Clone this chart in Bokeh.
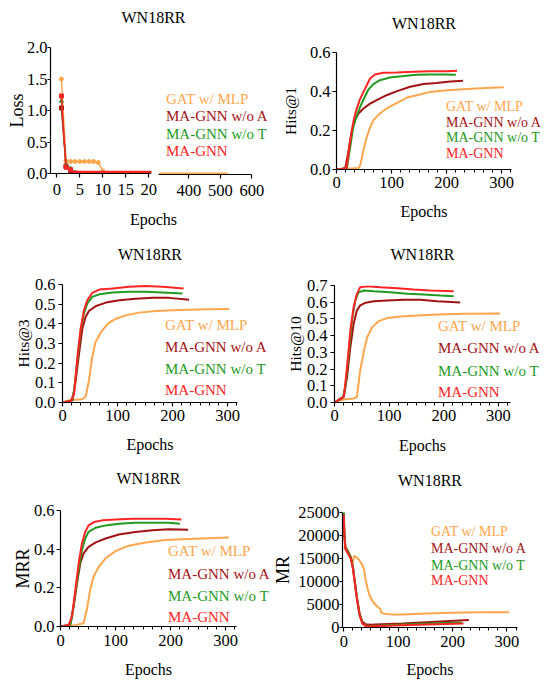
from bokeh.plotting import figure
from bokeh.models import (Range1d, LinearAxis, FixedTicker, SingleIntervalTicker,
                          NumeralTickFormatter, Legend, LegendItem)
from bokeh.layouts import column, row
from bokeh.embed import file_html
from bokeh.resources import INLINE

FONT = "Liberation Serif"
TITLE = "WN18RR"
SERIES = ["GAT w/ MLP", "MA-GNN w/o A", "MA-GNN w/o T", "MA-GNN"]
COLORS = ["#FFA64D", "#A31212", "#229A22", "#FF2424"]
MARKERS = ["circle", "square", "triangle", "square"]

# ---------------- data ----------------
# Loss (broken x axis: 0-20 and 300-600)
loss_epochs = [1, 2, 3, 4, 5, 6, 7, 8, 9, 10, 11, 12, 13, 14, 15, 16, 17, 18, 19, 20]
loss_gat = [1.50, 0.20, 0.19, 0.19, 0.19, 0.19, 0.19, 0.19, 0.175, 0.04, 0.004, 0.003, 0.003,
            0.003, 0.003, 0.003, 0.003, 0.003, 0.003, 0.003]
loss_woa = [1.04, 0.12, 0.04, 0.003, 0.002, 0.002, 0.002, 0.002, 0.002, 0.002, 0.002, 0.002,
            0.002, 0.002, 0.002, 0.002, 0.002, 0.002, 0.002, 0.002]
loss_wot = [1.15, 0.14, 0.08, 0.01, 0.003, 0.002, 0.002, 0.002, 0.002, 0.002, 0.002, 0.002,
            0.002, 0.002, 0.002, 0.002, 0.002, 0.002, 0.002, 0.002]
loss_ma = [1.23, 0.10, 0.06, 0.008, 0.003, 0.002, 0.002, 0.002, 0.002, 0.002, 0.002, 0.002,
           0.002, 0.002, 0.002, 0.002, 0.002, 0.002, 0.002, 0.002]
loss_late_epochs = [305, 330, 355, 380, 405, 430, 455, 480, 505, 523]
loss_gat_late = [0.002, 0.002, 0.002, 0.002, 0.002, 0.002, 0.002, 0.002, 0.002, 0.002]
loss_ticks_a = [0, 5, 10, 15, 20]
loss_ticks_b = [400, 500, 600]
loss_yticks = [0.0, 0.5, 1.0, 1.5, 2.0]

# Hits@1
h1_ep_gat = [0, 10, 20, 30, 40, 43, 49, 55, 61, 67, 79, 91, 110, 128, 146, 170, 201, 231, 261, 304]
h1_gat = [0.0, 0.004, 0.005, 0.006, 0.008, 0.02, 0.099, 0.167, 0.215, 0.253, 0.287, 0.313, 0.342,
          0.369, 0.381, 0.398, 0.407, 0.412, 0.417, 0.422]
h1_ep_woa = [0, 10, 16, 21, 28, 34, 40, 49, 61, 73, 91, 110, 134, 158, 182, 207, 230]
h1_woa = [0.0, 0.003, 0.008, 0.082, 0.20, 0.258, 0.287, 0.313, 0.338, 0.356, 0.381, 0.402, 0.424,
          0.438, 0.444, 0.451, 0.455]
h1_ep_wot = [0, 10, 19, 25, 30, 37, 43, 49, 58, 67, 79, 97, 122, 146, 170, 195, 217]
h1_wot = [0.0, 0.003, 0.008, 0.116, 0.21, 0.279, 0.321, 0.359, 0.41, 0.438, 0.458, 0.472, 0.479,
          0.486, 0.487, 0.487, 0.486]
h1_ep_ma = [0, 10, 18, 21, 25, 30, 35, 42, 49, 55, 61, 70, 85, 110, 140, 170, 201, 219]
h1_ma = [0.0, 0.003, 0.008, 0.065, 0.15, 0.236, 0.296, 0.356, 0.398, 0.432, 0.467, 0.487, 0.496,
         0.497, 0.501, 0.504, 0.504, 0.506]

# Hits@3
h3_ep_gat = [0, 12, 36, 42, 48, 54, 60, 70, 82, 97, 115, 139, 170, 200, 230, 261, 303]
h3_gat = [0.0, 0.012, 0.017, 0.029, 0.111, 0.23, 0.307, 0.358, 0.40, 0.426, 0.443, 0.457, 0.465,
          0.469, 0.472, 0.474, 0.476]
h3_ep_woa = [0, 10, 18, 24, 30, 36, 42, 48, 61, 79, 103, 133, 164, 194, 230]
h3_woa = [0.0, 0.005, 0.01, 0.111, 0.247, 0.375, 0.435, 0.465, 0.491, 0.508, 0.52, 0.528, 0.532,
          0.532, 0.523]
h3_ep_wot = [0, 10, 17, 21, 27, 33, 39, 45, 54, 67, 91, 121, 151, 182, 218]
h3_wot = [0.0, 0.005, 0.012, 0.06, 0.213, 0.366, 0.452, 0.503, 0.537, 0.55, 0.559, 0.563, 0.563,
          0.559, 0.554]
h3_ep_ma = [0, 10, 15, 21, 27, 33, 39, 45, 54, 67, 91, 121, 151, 182, 220]
h3_ma = [0.0, 0.005, 0.008, 0.043, 0.23, 0.375, 0.469, 0.52, 0.557, 0.574, 0.58, 0.588, 0.592,
         0.588, 0.58]

# Hits@10
h10_ep_gat = [0, 11, 20, 35, 41, 47, 54, 60, 69, 81, 96, 121, 151, 188, 236, 303]
h10_gat = [0.0, 0.014, 0.02, 0.024, 0.034, 0.193, 0.312, 0.392, 0.451, 0.487, 0.505, 0.515, 0.521,
           0.527, 0.531, 0.533]
h10_ep_woa = [0, 11, 17, 23, 29, 35, 41, 47, 57, 72, 96, 127, 157, 188, 230]
h10_woa = [0.0, 0.02, 0.034, 0.153, 0.332, 0.471, 0.551, 0.581, 0.597, 0.606, 0.61, 0.615, 0.615,
           0.606, 0.599]
h10_ep_wot = [0, 11, 15, 20, 26, 32, 38, 44, 54, 72, 102, 133, 163, 194, 218]
h10_wot = [0.0, 0.025, 0.03, 0.093, 0.292, 0.491, 0.61, 0.66, 0.67, 0.666, 0.66, 0.65, 0.646,
           0.64, 0.636]
h10_ep_ma = [0, 11, 17, 23, 29, 35, 41, 47, 60, 84, 115, 145, 175, 218]
h10_ma = [0.0, 0.024, 0.034, 0.213, 0.432, 0.571, 0.65, 0.69, 0.696, 0.69, 0.684, 0.676, 0.67,
          0.666]

# MRR
mrr_ep_gat = [0, 27, 42, 48, 54, 60, 70, 82, 100, 124, 155, 191, 233, 270, 306]
mrr_gat = [0.0, 0.007, 0.017, 0.089, 0.19, 0.259, 0.31, 0.353, 0.39, 0.418, 0.435, 0.447, 0.453,
           0.457, 0.46]
mrr_ep_woa = [0, 10, 18, 24, 30, 36, 42, 51, 64, 82, 106, 136, 167, 197, 232]
mrr_woa = [0.0, 0.005, 0.012, 0.106, 0.225, 0.327, 0.378, 0.412, 0.435, 0.455, 0.476, 0.489,
           0.498, 0.503, 0.501]
mrr_ep_wot = [0, 10, 18, 21, 27, 33, 39, 45, 51, 64, 82, 106, 136, 167, 197, 217]
mrr_wot = [0.0, 0.005, 0.012, 0.05, 0.174, 0.293, 0.395, 0.455, 0.49, 0.511, 0.523, 0.532, 0.537,
           0.537, 0.537, 0.532]
mrr_ep_ma = [0, 10, 15, 21, 27, 33, 39, 45, 51, 61, 76, 100, 130, 161, 191, 220]
mrr_ma = [0.0, 0.005, 0.008, 0.055, 0.19, 0.327, 0.43, 0.49, 0.523, 0.54, 0.549, 0.554, 0.557,
          0.557, 0.557, 0.554]

# MR
mr_ep_gat = [0, 4, 8, 12, 16, 19, 24, 28, 33, 37, 40, 44, 48, 53, 58, 63, 67, 69, 75, 90, 110,
             140, 180, 220, 260, 304]
mr_gat = [17400, 16900, 16300, 15300, 13800, 15600, 15200, 14700, 13800, 12800, 10500, 8300, 6800,
          5700, 5000, 4400, 4000, 3200, 3000, 2800, 2850, 3000, 3150, 3250, 3300, 3300]
mr_ep_woa = [0, 1, 3, 8, 13, 17, 20, 24, 29, 34, 40, 48, 70, 108, 169, 230]
mr_woa = [25000, 21000, 17500, 16500, 15300, 13000, 10300, 6700, 3100, 1300, 700, 600, 700, 850,
          1250, 1650]
mr_ep_wot = [0, 1, 3, 8, 13, 17, 20, 24, 29, 34, 40, 48, 70, 108, 169, 217]
mr_wot = [25000, 20000, 17300, 16300, 15100, 12800, 10000, 6400, 2800, 1000, 450, 350, 450, 650,
          900, 1100]
mr_ep_ma = [0, 1, 3, 8, 13, 17, 20, 24, 29, 34, 40, 48, 70, 108, 169, 220]
mr_ma = [24500, 19500, 17000, 16000, 14900, 12600, 9800, 6200, 2700, 900, 350, 250, 350, 500,
         700, 850]

hit_yticks_6 = [0.0, 0.1, 0.2, 0.3, 0.4, 0.5, 0.6]
hit_yticks_7 = [0.0, 0.1, 0.2, 0.3, 0.4, 0.5, 0.6, 0.7]
two_step_yticks = [0.0, 0.2, 0.4, 0.6]
mr_yticks = [0, 5000, 10000, 15000, 20000, 25000]


# ---------------- helpers ----------------
def base_fig(w, h, lb, rb, tb, bb, xr, yr, transparent=False):
    p = figure(width=w, height=h, min_border_left=lb, min_border_right=rb,
               min_border_top=tb, min_border_bottom=bb,
               x_range=Range1d(*xr), y_range=Range1d(*yr),
               output_backend="svg", toolbar_location=None, title=None)
    p.outline_line_color = None
    p.xgrid.visible = False
    p.ygrid.visible = False
    if transparent:
        p.background_fill_alpha = 0
        p.border_fill_alpha = 0
    else:
        p.background_fill_color = "white"
        p.border_fill_color = "white"
    return p


def add_title_axis(p, standoff):
    ax = LinearAxis(ticker=FixedTicker(ticks=[]), axis_label=TITLE)
    ax.axis_line_color = None
    ax.major_tick_line_color = None
    ax.minor_tick_line_color = None
    ax.major_tick_out = 0
    ax.major_tick_in = 0
    ax.major_label_standoff = 0
    ax.axis_label_text_font = FONT
    ax.axis_label_text_font_size = "16px"
    ax.axis_label_text_font_style = "normal"
    ax.axis_label_text_color = "black"
    ax.axis_label_standoff = int(standoff)
    p.add_layout(ax, "above")


def style_axis(ax, tick_out, standoff, label=None, label_size="16px", label_standoff=8,
               minor=False, tick_size="16.5px"):
    ax.axis_line_color = "black"
    ax.axis_line_width = 1.2
    ax.major_tick_line_color = "black"
    ax.major_tick_line_width = 1.2
    ax.major_tick_out = int(tick_out)
    ax.major_tick_in = 0
    ax.minor_tick_line_color = "black" if minor else None
    ax.minor_tick_out = 3
    ax.minor_tick_in = 0
    ax.minor_tick_line_width = 1
    ax.major_label_text_font = FONT
    ax.major_label_text_font_size = tick_size
    ax.major_label_text_color = "black"
    ax.major_label_standoff = int(standoff)
    if label is not None:
        ax.axis_label = label
        ax.axis_label_text_font = FONT
        ax.axis_label_text_font_size = label_size
        ax.axis_label_text_font_style = "normal"
        ax.axis_label_text_color = "black"
        ax.axis_label_standoff = int(label_standoff)


def legend_renderers(p):
    rends = []
    for i in range(4):
        ln = p.line(x=[], y=[], line_color=COLORS[i], line_width=1.3)
        sc = p.scatter(x=[], y=[], marker=MARKERS[i], size=3, fill_color=COLORS[i],
                       line_color=COLORS[i])
        rends.append([ln, sc])
    return rends


def add_legends(p, rends, gx, frame_bottom, centers, pitch, font_size, standoff, glyph_w=14):
    for i, rs in enumerate(rends):
        vy = frame_bottom - centers[i] - pitch / 2.0
        leg = Legend(items=[LegendItem(label=SERIES[i], renderers=rs)],
                     location=(gx, vy), orientation="vertical",
                     padding=0, margin=0, spacing=0,
                     glyph_width=glyph_w, glyph_height=int(pitch), label_height=int(pitch),
                     label_standoff=int(standoff),
                     label_text_font=FONT, label_text_font_size=font_size,
                     label_text_color=COLORS[i], label_text_baseline="middle",
                     border_line_color=None, background_fill_alpha=0)
        p.add_layout(leg)


def legend_overlay(w, h, gx, centers, pitch, font_size, standoff):
    o = base_fig(w, h, 0, 0, 0, 0, (0, 1), (0, 1), transparent=True)
    o.xaxis.visible = False
    o.yaxis.visible = False
    add_legends(o, legend_renderers(o), gx, h, centers, pitch, font_size, standoff)
    return o


def curve_panel(w, h, lb, rb, tb, bb, xr, yr, series, yticks, yfmt,
                ylabel, ylabel_size, y_tick_out, y_standoff, y_label_standoff,
                x_standoff, x_label_standoff, title_standoff):
    p = base_fig(w, h, lb, rb, tb, bb, xr, yr)
    xa = p.below[0]
    xa.ticker = SingleIntervalTicker(interval=100, num_minor_ticks=6)
    style_axis(xa, 4, x_standoff, "Epochs", "16px", x_label_standoff, minor=True)
    ya = p.left[0]
    ya.ticker = FixedTicker(ticks=yticks)
    ya.formatter = NumeralTickFormatter(format=yfmt)
    style_axis(ya, y_tick_out, y_standoff, ylabel, ylabel_size, y_label_standoff)
    add_title_axis(p, title_standoff)
    for i, (xs, ys) in enumerate(series):
        p.line(xs, ys, line_color=COLORS[i], line_width=2.0)
    return p


def overlay(fig):
    return column(fig, margin=(0, 0, 0, -fig.width))


# ---------------- panel 1: Loss (broken axis) ----------------
p1a = base_fig(274, 230, 50, 18, 47, 56, (-1.37, -1.37 + 206 / 4.6), (0, 2.0))
xa1 = p1a.below[0]
xa1.ticker = FixedTicker(ticks=loss_ticks_a)
xa1.bounds = (-1.37, 20.4)
style_axis(xa1, 4, 6, "Epochs", "16px", 13)
ya1 = p1a.left[0]
ya1.ticker = FixedTicker(ticks=loss_yticks)
ya1.formatter = NumeralTickFormatter(format="0.0")
style_axis(ya1, 3, 0, "Loss", "18px", -3)
add_title_axis(p1a, 22)
for i, ys in enumerate([loss_gat, loss_woa, loss_wot, loss_ma]):
    p1a.line(loss_epochs, ys, line_color=COLORS[i], line_width=1.5)
    p1a.scatter(loss_epochs, ys, marker=MARKERS[i], size=4, fill_color=COLORS[i],
                line_color=COLORS[i])

# second segment of the broken axis + legend, overlaid on the same cell
k_late = 93.0 / 296.0
late_left = 304 - 158.3 / k_late
p1b = base_fig(274, 230, 0, 0, 0, 56, (late_left, late_left + 274 / k_late), (0, 2.0),
               transparent=True)
p1b.yaxis.visible = False
xb1 = p1b.below[0]
xb1.ticker = FixedTicker(ticks=loss_ticks_b)
xb1.bounds = (304, 600)
style_axis(xb1, 4, 6)
p1b.line(loss_late_epochs, loss_gat_late, line_color=COLORS[0], line_width=3.5)
add_legends(p1b, legend_renderers(p1b), 148, 174, [99, 116.7, 134.3, 151.7], 17, "15px", 4)

# ---------------- panel 2: Hits@1 ----------------
p2 = curve_panel(274, 230, 62, 37, 52, 61, (0, 318), (0, 0.6),
                 [(h1_ep_gat, h1_gat), (h1_ep_woa, h1_woa), (h1_ep_wot, h1_wot),
                  (h1_ep_ma, h1_ma)],
                 two_step_yticks, "0.0", "Hits@1", "15.5px", 4, 2, 8,
                 3, 12, 21)
o2 = legend_overlay(274, 230, 155, [106.7, 122.7, 138.3, 154.3], 16, "14px", 3)

# ---------------- panel 3: Hits@3 ----------------
p3 = curve_panel(274, 230, 62, 37, 54, 58, (0, 318), (0, 0.6),
                 [(h3_ep_gat, h3_gat), (h3_ep_woa, h3_woa), (h3_ep_wot, h3_wot),
                  (h3_ep_ma, h3_ma)],
                 hit_yticks_6, "0.0", "Hits@3", "15.5px", 4, 3, 0,
                 3, 12, 22)
o3 = legend_overlay(274, 230, 147, [95, 117.3, 139.3, 160.7], 22, "15px", 4)

# ---------------- panel 4: Hits@10 ----------------
p4 = curve_panel(274, 230, 60, 38, 55, 58, (0, 322), (0, 0.7),
                 [(h10_ep_gat, h10_gat), (h10_ep_woa, h10_woa), (h10_ep_wot, h10_wot),
                  (h10_ep_ma, h10_ma)],
                 hit_yticks_7, "0.0", "Hits@10", "15.5px", 4, 3, 0,
                 3, 13, 23)
o4 = legend_overlay(274, 230, 147, [96.7, 118.3, 141, 162.3], 22, "15px", 3)

# ---------------- panel 5: MRR ----------------
p5 = curve_panel(270, 220, 60, 34, 50, 53, (0, 320), (0, 0.6),
                 [(mrr_ep_gat, mrr_gat), (mrr_ep_woa, mrr_woa), (mrr_ep_wot, mrr_wot),
                  (mrr_ep_ma, mrr_ma)],
                 two_step_yticks, "0.0", "MRR", "18px", 4, 2, -2,
                 4, 12, 24)
o5 = legend_overlay(270, 220, 149, [91.7, 114.3, 136, 157.7], 22, "15px", 5)

# ---------------- panel 6: MR ----------------
p6 = curve_panel(278, 220, 71, 31, 52, 52, (-2.4, 319.4), (0, 25000),
                 [(mr_ep_gat, mr_gat), (mr_ep_woa, mr_woa), (mr_ep_wot, mr_wot),
                  (mr_ep_ma, mr_ma)],
                 mr_yticks, "0", "MR", "18px", 3, 0, 2,
                 4, 11, 24)
o6 = legend_overlay(278, 220, 144, [71.7, 89.3, 106, 120.7], 16, "14px", 3)

layout = column(
    row(column(p1a), overlay(p1b), column(p2), overlay(o2)),
    row(column(p3), overlay(o3), column(p4), overlay(o4)),
    row(column(p5), overlay(o5), column(p6), overlay(o6)),
)
open("out.html", "w").write(file_html(layout, INLINE))
